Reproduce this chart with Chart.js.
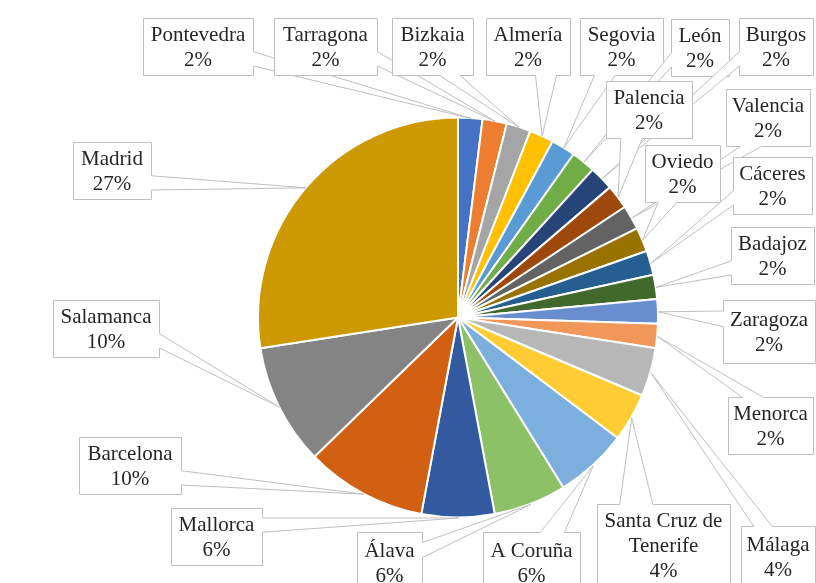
<!DOCTYPE html>
<html>
<head>
<meta charset="utf-8">
<script src="https://cdn.jsdelivr.net/npm/chart.js@4"></script>
<style>
  body { margin: 0; background: #fff; }
  canvas { display: block; }
</style>
</head>
<body>
<canvas id="pieChart" width="816" height="583"></canvas>
<script>
const cities = ['Pontevedra', 'Tarragona', 'Bizkaia', 'Almería', 'Segovia', 'León', 'Burgos',
  'Palencia', 'Valencia', 'Oviedo', 'Cáceres', 'Badajoz', 'Zaragoza', 'Menorca', 'Málaga',
  'Santa Cruz de Tenerife', 'A Coruña', 'Álava', 'Mallorca', 'Barcelona', 'Salamanca', 'Madrid'];
const counts = [1, 1, 1, 1, 1, 1, 1, 1, 1, 1, 1, 1, 1, 1, 2, 2, 3, 3, 3, 5, 5, 14];
const pctLabels = ['2%', '2%', '2%', '2%', '2%', '2%', '2%', '2%', '2%', '2%', '2%', '2%', '2%', '2%',
  '4%', '4%', '6%', '6%', '6%', '10%', '10%', '27%'];

const colors = ['#4472C4', '#ED7D31', '#A5A5A5', '#FFC000', '#5B9BD5', '#70AD47',
  '#264478', '#9E480E', '#636363', '#997300', '#255E91', '#43682B',
  '#698ED0', '#F1975A', '#B7B7B7', '#FFCD33', '#7CAFDD', '#8CC168',
  '#335AA1', '#D26012', '#848484', '#CC9A00'];

// callout boxes: x, y, w, h
const boxes = [
  [143, 18, 110, 57], [274, 18, 103, 57], [392, 18, 81, 57], [486, 18, 84, 57],
  [580, 18, 83, 57], [671, 19, 58, 57], [739, 18, 74, 57], [606, 81, 86, 57],
  [726, 89, 84, 57], [645, 145, 75, 57], [733, 157, 79, 57], [731, 227, 83, 57],
  [723, 300, 92, 63], [728, 397, 85, 57], [741, 526, 74, 60], [597, 504, 133, 82],
  [483, 532, 97, 60], [357, 532, 65, 60], [171, 508, 91, 57], [79, 437, 102, 57],
  [53, 300, 106, 57], [73, 142, 78, 57]
];

function wrap(ctx, text, maxW) {
  const words = text.split(' ');
  const lines = [];
  let cur = '';
  words.forEach(w => {
    const test = cur ? cur + ' ' + w : w;
    if (cur && ctx.measureText(test).width > maxW) {
      lines.push(cur);
      cur = w;
    } else {
      cur = test;
    }
  });
  lines.push(cur);
  return lines;
}

const calloutPlugin = {
  id: 'callouts',
  afterDatasetsDraw(chart) {
    const ctx = chart.ctx;
    const meta = chart.getDatasetMeta(0);
    ctx.save();
    ctx.font = '21px "Liberation Serif", "Times New Roman", serif';
    meta.data.forEach((arc, i) => {
      const p = arc.getProps(['x', 'y', 'startAngle', 'endAngle', 'outerRadius'], true);
      const mid = (p.startAngle + p.endAngle) / 2;
      const tx = p.x + Math.cos(mid) * p.outerRadius;
      const ty = p.y + Math.sin(mid) * p.outerRadius;
      const [bx, by, bw, bh] = boxes[i];
      const cx = bx + bw / 2, cy = by + bh / 2;
      const dx = tx - cx, dy = ty - cy;
      const dz = Math.abs(dy) - Math.abs(dx * bh / bw);
      const x1 = bx + bw * (dx > 0 ? 7 : 2) / 12, x2 = bx + bw * (dx > 0 ? 10 : 5) / 12;
      const y1 = by + bh * (dy > 0 ? 7 : 2) / 12, y2 = by + bh * (dy > 0 ? 10 : 5) / 12;
      const pts = [[bx, by]];
      if (dz > 0 && dy < 0) pts.push([x1, by], [tx, ty], [x2, by]);
      pts.push([bx + bw, by]);
      if (dz <= 0 && dx > 0) pts.push([bx + bw, y1], [tx, ty], [bx + bw, y2]);
      pts.push([bx + bw, by + bh]);
      if (dz > 0 && dy > 0) pts.push([x2, by + bh], [tx, ty], [x1, by + bh]);
      pts.push([bx, by + bh]);
      if (dz <= 0 && dx < 0) pts.push([bx, y2], [tx, ty], [bx, y1]);

      ctx.beginPath();
      pts.forEach((pt, k) => k ? ctx.lineTo(pt[0] + 0.5, pt[1] + 0.5) : ctx.moveTo(pt[0] + 0.5, pt[1] + 0.5));
      ctx.closePath();
      ctx.fillStyle = '#fff';
      ctx.fill();
      ctx.strokeStyle = '#BFBFBF';
      ctx.lineWidth = 1;
      ctx.stroke();

      const lines = wrap(ctx, cities[i], bw - 6).concat([pctLabels[i]]);
      ctx.fillStyle = '#262626';
      ctx.textAlign = 'center';
      ctx.textBaseline = 'alphabetic';
      const first = cy - (lines.length - 1) * 12.5 + 7;
      lines.forEach((ln, k) => ctx.fillText(ln, cx, first + k * 25));
    });
    ctx.restore();
  }
};

new Chart(document.getElementById('pieChart').getContext('2d'), {
  type: 'pie',
  data: {
    labels: cities,
    datasets: [{
      data: counts,
      backgroundColor: colors,
      borderColor: '#fff',
      borderWidth: 2,
    }]
  },
  options: {
    responsive: false,
    animation: false,
    radius: 200,
    layout: { padding: { left: 100, right: 0, top: 52, bottom: 0 } },
    events: [],
    plugins: {
      legend: { display: false },
      tooltip: { enabled: false }
    }
  },
  plugins: [calloutPlugin]
});
</script>
</body>
</html>
